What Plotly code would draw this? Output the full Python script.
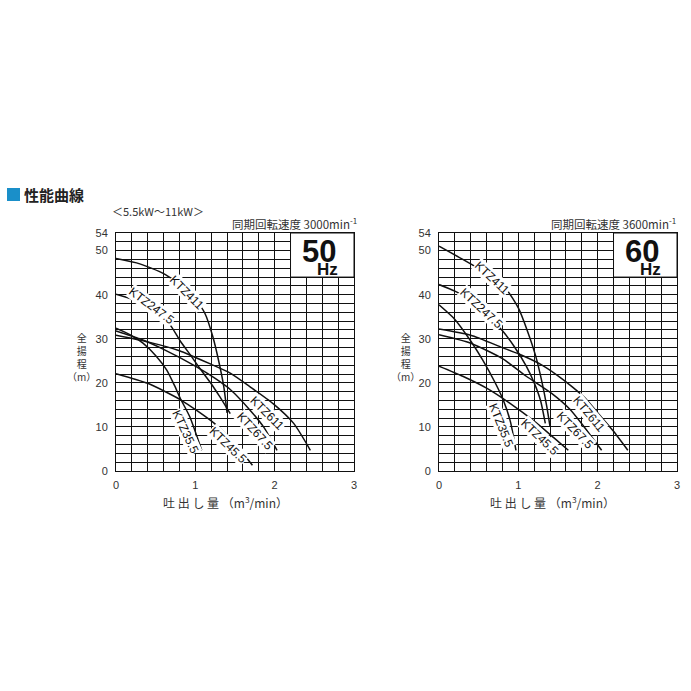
import plotly.graph_objects as go

# ---------------- data ----------------
x_tickvals = [0, 1, 2, 3]
y_tickvals = [0, 10, 20, 30, 40, 50, 54]
series_names = ["KTZ411", "KTZ247.5", "KTZ35.5", "KTZ45.5", "KTZ67.5", "KTZ611"]

# 50 Hz (flow m3/min, head m)
hz50_ktz411_x = [0, 0.3, 0.6, 0.85, 1.0, 1.12, 1.22, 1.3, 1.36, 1.40]
hz50_ktz411_y = [48.2, 47.0, 44.8, 41.8, 39.0, 35.8, 30.5, 24.5, 19.0, 13.2]
hz50_ktz2475_x = [0, 0.15, 0.3, 0.45, 0.6, 0.7, 0.81, 0.95, 1.06, 1.2, 1.31, 1.44]
hz50_ktz2475_y = [40.1, 39.3, 38.3, 37.0, 34.9, 32.7, 29.5, 26.0, 23.2, 19.8, 16.8, 13.0]
hz50_ktz355_x = [0, 0.18, 0.34, 0.51, 0.64, 0.74, 0.81, 0.93, 1.08]
hz50_ktz355_y = [32.4, 30.9, 29.0, 26.0, 22.9, 19.3, 16.5, 12.3, 4.7]
hz50_ktz455_x = [0, 0.4, 0.82, 1.24, 1.53, 1.72]
hz50_ktz455_y = [22.1, 19.9, 16.1, 10.8, 5.5, 1.3]
hz50_ktz675_x = [0, 0.3, 0.6, 1.0, 1.25, 1.44, 1.69, 1.86, 2.03]
hz50_ktz675_y = [31.8, 30.0, 27.6, 23.8, 21.0, 18.5, 13.8, 10.0, 4.7]
hz50_ktz611_x = [0, 0.4, 0.8, 1.2, 1.44, 1.69, 1.98, 2.24, 2.45]
hz50_ktz611_y = [30.8, 29.3, 27.3, 24.2, 22.2, 19.1, 15.3, 10.8, 4.7]

# 60 Hz
hz60_ktz411_x = [0, 0.3, 0.6, 0.85, 1.0, 1.12, 1.22, 1.3, 1.36, 1.40]
hz60_ktz411_y = [51.0, 48.0, 44.8, 41.2, 37.0, 31.5, 26.0, 20.0, 14.5, 10.0]
hz60_ktz2475_x = [0, 0.2, 0.4, 0.6, 0.8, 0.95, 1.1, 1.2, 1.28, 1.34]
hz60_ktz2475_y = [42.3, 40.8, 38.8, 35.5, 31.8, 28.2, 23.8, 20.0, 16.0, 10.8]
hz60_ktz355_x = [0, 0.2, 0.4, 0.55, 0.7, 0.81, 0.9, 0.97]
hz60_ktz355_y = [37.7, 34.4, 29.5, 25.2, 20.3, 16.1, 11.2, 4.7]
hz60_ktz455_x = [0, 0.3, 0.6, 0.9, 1.2, 1.45, 1.63]
hz60_ktz455_y = [23.8, 21.5, 18.8, 15.3, 11.3, 7.5, 4.7]
hz60_ktz675_x = [0, 0.4, 0.8, 1.1, 1.42, 1.65, 1.83, 2.05]
hz60_ktz675_y = [30.9, 29.0, 25.5, 21.5, 17.6, 14.0, 10.0, 4.7]
hz60_ktz611_x = [0, 0.4, 0.8, 1.0, 1.26, 1.5, 1.68, 1.85, 2.01, 2.2, 2.38]
hz60_ktz611_y = [32.2, 30.8, 28.0, 26.6, 24.4, 21.6, 19.1, 16.4, 13.0, 9.0, 4.7]

hz50_series = [
    (hz50_ktz411_x, hz50_ktz411_y), (hz50_ktz2475_x, hz50_ktz2475_y),
    (hz50_ktz355_x, hz50_ktz355_y), (hz50_ktz455_x, hz50_ktz455_y),
    (hz50_ktz675_x, hz50_ktz675_y), (hz50_ktz611_x, hz50_ktz611_y),
]
hz60_series = [
    (hz60_ktz411_x, hz60_ktz411_y), (hz60_ktz2475_x, hz60_ktz2475_y),
    (hz60_ktz355_x, hz60_ktz355_y), (hz60_ktz455_x, hz60_ktz455_y),
    (hz60_ktz675_x, hz60_ktz675_y), (hz60_ktz611_x, hz60_ktz611_y),
]

# label placement (x, y, angle) per series
hz50_label_pos = [(0.90, 40.5, 45), (0.45, 37.4, 37), (0.875, 8.8, 65),
                  (1.41, 5.9, 44), (1.75, 9.1, 47), (1.90, 13.1, 45)]
hz60_label_pos = [(0.67, 43.8, 43), (0.53, 37.0, 43), (0.78, 10.4, 68),
                  (1.27, 7.8, 44), (1.71, 9.3, 46), (1.89, 12.9, 50)]

# ---------------- figure ----------------
W = H = 691
fig = go.Figure()
LAT = "Liberation Sans, Arial, sans-serif"
JP = "Noto Sans CJK JP, sans-serif"

def px_x(p):
    return p / W

def px_y(p):
    return 1 - p / H

for series, xa, ya in [(hz50_series, "x", "y"), (hz60_series, "x2", "y2")]:
    for (sx, sy), name in zip(series, series_names):
        fig.add_trace(go.Scatter(x=sx, y=sy, mode="lines", name=name, xaxis=xa, yaxis=ya,
                                 line=dict(color="#111", width=1.5, shape="spline", smoothing=0.6),
                                 hoverinfo="skip", showlegend=False))

axis_common = dict(showline=True, mirror=True, linecolor="#111", linewidth=1,
                   showgrid=True, gridcolor="#111", gridwidth=1, zeroline=False,
                   ticks="", tickfont=dict(family=LAT, size=11, color="#333"),
                   fixedrange=True, automargin=False)

xd1 = [px_x(116), px_x(354)]
xd2 = [px_x(439), px_x(677)]
yd = [px_y(471), px_y(233)]

fig.update_layout(
    width=W, height=H, autosize=False, margin=dict(l=0, r=0, t=0, b=0, pad=0),
    paper_bgcolor="white", plot_bgcolor="white", showlegend=False,
    xaxis=dict(domain=xd1, range=[0, 3], tickvals=x_tickvals, anchor="y",
               minor=dict(dtick=0.2, tick0=0, showgrid=True, gridcolor="#111", gridwidth=1),
               ticklabelstandoff=4, **axis_common),
    yaxis=dict(domain=yd, range=[0, 54], tickvals=y_tickvals, anchor="x",
               minor=dict(dtick=2, tick0=0, showgrid=True, gridcolor="#111", gridwidth=1),
               ticklabelstandoff=5, **axis_common),
    xaxis2=dict(domain=xd2, range=[0, 3], tickvals=x_tickvals, anchor="y2",
                minor=dict(dtick=0.2, tick0=0, showgrid=True, gridcolor="#111", gridwidth=1),
                ticklabelstandoff=4, **axis_common),
    yaxis2=dict(domain=yd, range=[0, 54], tickvals=y_tickvals, anchor="x2",
                minor=dict(dtick=2, tick0=0, showgrid=True, gridcolor="#111", gridwidth=1),
                ticklabelstandoff=5, **axis_common),
)

shapes = []
annotations = []


def paper_text(cx, cy, text, size, family=JP, color="#333", xanchor="center"):
    annotations.append(dict(x=px_x(cx), y=px_y(cy), xref="paper", yref="paper",
                            xanchor=xanchor, yanchor="middle", text=text, showarrow=False,
                            font=dict(family=family, size=size, color=color)))


# Hz boxes
for xa, ya, big in [("x", "y", "50"), ("x2", "y2", "60")]:
    shapes.append(dict(type="rect", xref=xa, yref=ya, x0=2.2, x1=3.0, y0=44, y1=54,
                       fillcolor="white", line=dict(color="#111", width=1), layer="above"))
    annotations.append(dict(x=2.56, y=49.8, xref=xa, yref=ya, text="<b>%s</b>" % big,
                            xanchor="center", yanchor="middle",
                            showarrow=False, font=dict(family=LAT, size=31, color="#111")))
    annotations.append(dict(x=2.67, y=45.7, xref=xa, yref=ya, text="<b>Hz</b>",
                            xanchor="center", yanchor="middle",
                            showarrow=False, font=dict(family=LAT, size=17, color="#111")))

# curve labels
for labels, xa, ya in [(hz50_label_pos, "x", "y"), (hz60_label_pos, "x2", "y2")]:
    for (lx, ly, ang), name in zip(labels, series_names):
        annotations.append(dict(x=lx, y=ly, xref=xa, yref=ya, text=name, textangle=ang,
                                xanchor="center", yanchor="middle",
                                showarrow=False, bgcolor="white", borderpad=0,
                                font=dict(family=LAT, size=12, color="#111")))

# title block
shapes.append(dict(type="rect", xref="paper", yref="paper", x0=px_x(7), x1=px_x(20),
                   y0=px_y(201), y1=px_y(188), fillcolor="#1a8fc9", line=dict(width=0)))
paper_text(22, 194.5, "<b>性能曲線</b>", 15, color="#222", xanchor="left")
paper_text(157.5, 211, "＜5.5kW～11kW＞", 11)

for right_px, speed in [(359, "3000"), (678, "3600")]:
    paper_text(right_px, 223, "同期回転速度 %smin<sup>-1</sup>" % speed, 11.5, xanchor="right")

# y-axis titles (stacked, one text block each)
for cx in [81, 405.5]:
    paper_text(cx, 357, "全<br>揚<br>程<br>（m）", 10)

# x-axis titles
for cx in [225, 552.5]:
    paper_text(cx, 502, "吐 出 し 量 （m<sup>3</sup>/min）", 12)

fig.update_layout(shapes=shapes, annotations=annotations)
fig.write_html("out.html", config={"responsive": False, "displayModeBar": False},
               post_script="document.body.style.margin='0';document.body.style.padding='0';"
                           "document.body.style.overflow='hidden';")
